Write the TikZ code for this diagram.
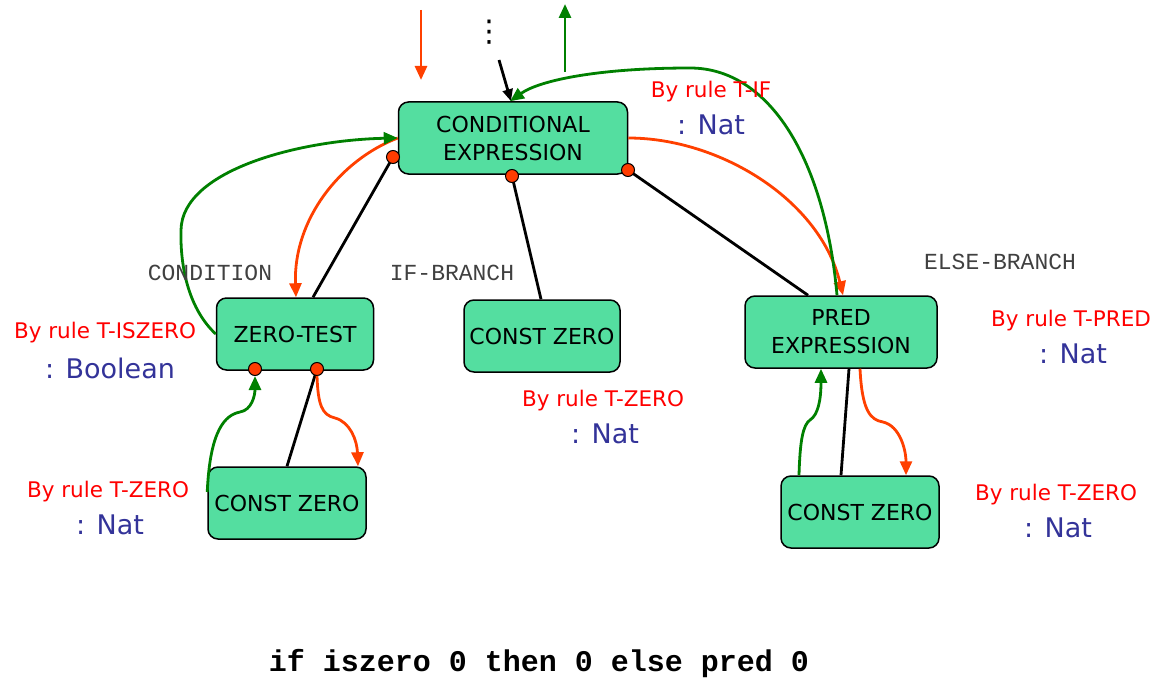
\documentclass[tikz,border=0pt]{standalone}
\usepackage{fontspec}
\setmainfont{DejaVu Sans}
\setmonofont{Liberation Mono}
\usetikzlibrary{arrows.meta}
\definecolor{boxgreen}{RGB}{84,222,160}
\definecolor{dotred}{RGB}{255,60,0}
\definecolor{flowred}{RGB}{255,64,0}
\definecolor{flowgreen}{RGB}{0,128,0}
\definecolor{rulered}{RGB}{255,0,0}
\definecolor{typeblue}{RGB}{51,51,153}
\begin{document}
\begin{tikzpicture}[x=1pt, y=-1pt,
  box/.style={draw, line width=1.5pt, fill=boxgreen, rounded corners=10pt, align=center, minimum height=72pt, inner sep=2pt, font=\fontsize{22}{28}\selectfont},
  dot/.style={circle, draw, line width=1pt, fill=dotred, inner sep=0pt, minimum size=13pt},
  link/.style={line width=2.8pt},
  redarr/.style={-{Triangle[length=14pt,width=12pt]}, line width=2.8pt, flowred},
  greenarr/.style={-{Triangle[length=14pt,width=12pt]}, line width=2.8pt, flowgreen},
  rulelbl/.style={text=rulered, font=\fontsize{21.5}{25}\selectfont},
  typelbl/.style={text=typeblue, font=\fontsize{27}{30}\selectfont},
  rolelbl/.style={text=black!75, font=\ttfamily\fontsize{23}{26}\selectfont}
]
\useasboundingbox (0,0) rectangle (1158,682);
% tree nodes
\node[box, minimum width=229pt] (cond) at (513,138) {CONDITIONAL\\EXPRESSION};
\node[box, minimum width=157pt] (zt) at (295,334) {ZERO-TEST};
\node[box, minimum width=156pt] (czm) at (542,336) {CONST ZERO};
\node[box, minimum width=192pt] (pred) at (841,332) {PRED\\EXPRESSION};
\node[box, minimum width=158pt] (czl) at (287,503) {CONST ZERO};
\node[box, minimum width=158pt] (czr) at (860,512) {CONST ZERO};
% child links
\draw[link] (393,157) -- ([xshift=18pt]zt.north);
\draw[link] (512,176) -- ([xshift=-1pt]czm.north);
\draw[link] (628,170) -- ([xshift=-33pt]pred.north);
\draw[link] (317,369) -- (czl.north);
\draw[link] ([xshift=8pt]pred.south) -- ([xshift=-19pt]czr.north);
\node[dot] (cd1) at (393,157) {};
\node[dot] (cd2) at (512,176) {};
\node[dot] (cd3) at (628,170) {};
\node[dot] (zd1) at (255,369) {};
\node[dot] (zd2) at (317,369) {};
% context above
\coordinate (redin) at (421,10);
\coordinate (redto) at (421,80);
\coordinate (greenfrom) at (565,72);
\coordinate (greenout) at (565,4);
\coordinate (parent) at (499,60);
\node[inner sep=0pt] (vdots) at (489,32) {\fontsize{30}{30}\selectfont ⋮};
\draw[redarr] (redin) -- (redto);
\draw[greenarr] (greenfrom) -- (greenout);
\draw[-{Triangle[length=12pt,width=10pt]}, line width=2.8pt] (parent) -- ([xshift=-2pt]cond.north);
% checking flow
\draw[redarr] (cond.west) .. controls (340,160) and (293,220) .. ([xshift=1pt]zt.north);
\draw[greenarr] (zt.west) .. controls (190,310) and (180,270) .. (181,230) .. controls (182,170) and (300,140) .. (cond.west);
\draw[redarr] (zd2.south) .. controls (318,405) and (322,415) .. (335,418) .. controls (350,422) and (357,440) .. ([xshift=71pt]czl.north);
\draw[greenarr] ([yshift=11pt]czl.west) .. controls (210,430) and (225,415) .. (240,412) .. controls (252,410) and (255,395) .. (zd1.south);
\draw[redarr] (cond.east) .. controls (720,138) and (820,200) .. ([xshift=2pt]pred.north);
\draw[greenarr] ([xshift=-4pt]pred.north) .. controls (825,160) and (770,68) .. (690,68) .. controls (600,68) and (540,80) .. ([xshift=-3pt]cond.north);
\draw[redarr] ([xshift=19pt]pred.south) .. controls (862,410) and (870,420) .. (883,422) .. controls (900,426) and (906,450) .. ([xshift=46pt]czr.north);
\draw[greenarr] ([xshift=-61pt]czr.north) .. controls (800,440) and (803,425) .. (810,420) .. controls (818,415) and (821,400) .. ([xshift=-20pt]pred.south);
% roles
\node[rolelbl] (rcond) at (210,273) {CONDITION};
\node[rolelbl] (rif) at (452,273) {IF-BRANCH};
\node[rolelbl] (relse) at (1000,262) {ELSE-BRANCH};
% typing rules
\node[rulelbl] (ruleif) at (711,92) {By rule T-IF};
\node[typelbl] (typeif) at (711,125) {: Nat};
\node[rulelbl] (ruleisz) at (105,333) {By rule T-ISZERO};
\node[typelbl] (typeisz) at (110,368) {: Boolean};
\node[rulelbl] (rulezm) at (603,401) {By rule T-ZERO};
\node[typelbl] (typezm) at (605,434) {: Nat};
\node[rulelbl] (rulepred) at (1071,321) {By rule T-PRED};
\node[typelbl] (typepred) at (1073,354) {: Nat};
\node[rulelbl] (rulezl) at (108,492) {By rule T-ZERO};
\node[typelbl] (typezl) at (110,525) {: Nat};
\node[rulelbl] (rulezr) at (1056,495) {By rule T-ZERO};
\node[typelbl] (typezr) at (1058,528) {: Nat};
% program
\node[font=\ttfamily\bfseries\fontsize{30}{32}\selectfont] (prog) at (539,664) {if iszero 0 then 0 else pred 0};
\end{tikzpicture}
\end{document}
